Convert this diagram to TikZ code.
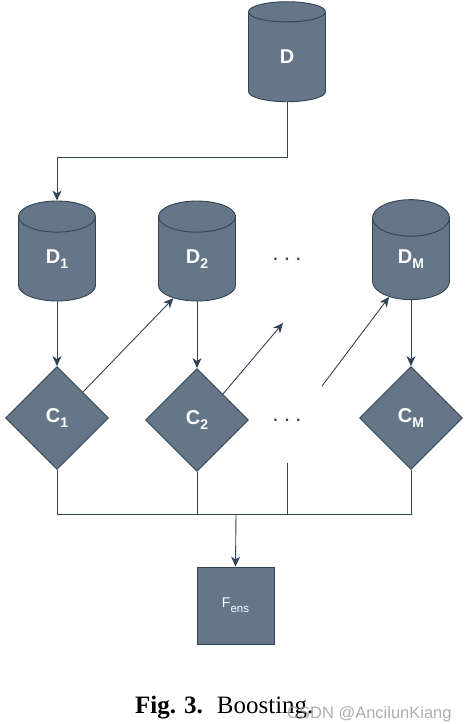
\documentclass[tikz,border=0pt]{standalone}
\usepackage{fontspec}
\setmainfont{Liberation Serif}
\newfontfamily\labfont{Liberation Sans}
\usetikzlibrary{shapes.geometric,arrows.meta}
\definecolor{slatefill}{HTML}{647687}
\definecolor{slateline}{HTML}{314354}
\newcommand{\sublab}[2]{#1\raisebox{-5pt}{\fontsize{14}{14}\selectfont #2}}
\tikzset{
  x=1pt, y=-1pt,
  cyl/.style={cylinder, shape border rotate=90, aspect=1.4, draw=slateline, fill=slatefill,
    line width=0.9pt, minimum height=100pt, minimum width=77pt, inner sep=0pt,
    text=white, font=\labfont\bfseries\fontsize{20}{20}\selectfont},
  dia/.style={diamond, draw=slateline, fill=slatefill, line width=0.9pt,
    minimum width=103pt, minimum height=103pt, inner sep=0pt, aspect=1,
    text=white, font=\labfont\bfseries\fontsize{20}{20}\selectfont},
  box/.style={rectangle, draw=slateline, fill=slatefill, line width=0.9pt,
    minimum width=77pt, minimum height=77pt, inner sep=0pt,
    text=white, font=\labfont\fontsize{14}{14}\selectfont},
  conn/.style={draw=slateline, line width=0.9pt},
  arr/.style={conn, -{Stealth[length=10pt, width=9pt, inset=3pt]}},
  dots/.style={text=slateline, font=\labfont\bfseries\fontsize{16}{16}\selectfont, inner sep=0pt},
}
\begin{document}
\begin{tikzpicture}
\useasboundingbox (0,0) rectangle (467,724);
% data sets
\node[cyl] (D)  at (287,57)  {\raisebox{-12pt}{D}};
\node[cyl] (D1) at (57,259)  {\raisebox{-13pt}{\sublab{D}{1}}};
\node[cyl] (D2) at (197,259) {\raisebox{-13pt}{\sublab{D}{2}}};
\node[cyl] (DM) at (411,259) {\raisebox{-13pt}{\sublab{D}{M}}};
% classifiers
\node[dia] (C1) at (57,418)  {\sublab{C}{1}};
\node[dia] (C2) at (197,420) {\sublab{C}{2}};
\node[dia] (CM) at (411,418) {\sublab{C}{M}};
% ensemble
\node[box] (F) at (235.5,605.5) {\sublab{F}{\fontsize{11.5}{11.5}\selectfont ens}};
% dots
\node[dots] (dtop) at (287,259) {.\hspace{7pt}.\hspace{7pt}.};
\node[dots] (dbot) at (287,420) {.\hspace{7pt}.\hspace{7pt}.};
% free ends
\coordinate (midend) at (283,323);
\coordinate (thirdstart) at (322,386);
\coordinate (dotsv) at (287,463);
\coordinate (bus) at (236,514);
\coordinate (turn) at (287,157);
% connectors
\draw[arr] (D.south) -- (turn) -| (D1.north);
\draw[arr] (D1.south) -- (C1.north);
\draw[arr] (D2.south) -- (C2.north);
\draw[arr] (DM.south) -- (CM.north);
\draw[arr] (C1.north east) -- (D2.239);
\draw[arr] (C2.north east) -- (midend);
\draw[arr] (thirdstart) -- (DM.240);
\draw[conn] (C1.south) -- (C1.south |- bus) -- (CM.south |- bus) -- (CM.south);
\draw[conn] (C2.south) -- (C2.south |- bus);
\draw[conn] (dotsv) -- (dotsv |- bus);
\draw[arr] (bus) -- (F.north);
% caption
\node[anchor=base west, inner sep=0pt, font=\fontsize{25}{25}\selectfont] (cap) at (135,713)
  {\textbf{Fig.\hspace{8pt}3.}\hspace{14pt}Boosting.};
\node[anchor=base west, inner sep=0pt, text=black!40, opacity=0.8, font=\labfont\fontsize{16.5}{16.5}\selectfont] (wm) at (287,718)
  {CSDN @AncilunKiang};
\end{tikzpicture}
\end{document}
